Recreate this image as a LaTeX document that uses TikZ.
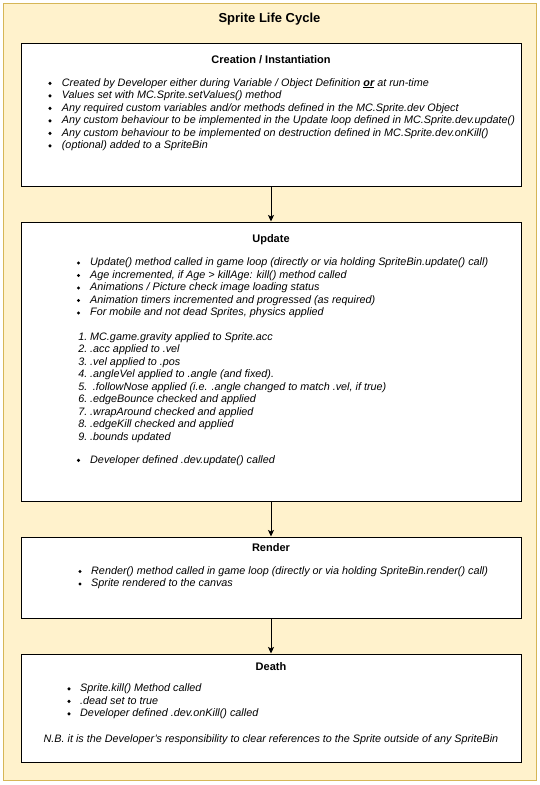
\documentclass[tikz,border=0pt]{standalone}
\usepackage{fontspec}
\setmainfont{Liberation Sans}
\usetikzlibrary{arrows.meta,shadows}
\definecolor{outerfill}{HTML}{FFF2CC}
\definecolor{outerline}{HTML}{D6B656}
\newcommand\litem[5]{%
  \fill (#2,#4-2.7) circle[radius=1.7pt];
  \node[txt] (#1) at (#3,#4) {#5};}
\newcommand\nitem[5]{%
  \node[txt,anchor=base east] (#1n) at (87.5,#4) {#2};
  \node[txt] (#1) at (#3,#4) {#5};}
\begin{document}
\begin{tikzpicture}[x=1pt,y=-1pt,
  outer/.style={draw=outerline,fill=outerfill,line width=1pt,inner sep=0pt,rectangle},
  stagebox/.style={draw=black,fill=white,line width=1pt,inner sep=0pt,rectangle,
    drop shadow={shadow xshift=1.2pt,shadow yshift=-1.2pt,fill=black,opacity=0.25}},
  maintitle/.style={anchor=base,inner sep=0pt,font=\fontsize{13}{15}\selectfont\bfseries},
  boxtitle/.style={anchor=base,inner sep=0pt,font=\fontsize{11}{13}\selectfont\bfseries},
  txt/.style={anchor=base west,inner sep=0pt,font=\fontsize{10.8}{13}\selectfont\itshape},
  arr/.style={draw=black,line width=1pt,-{Stealth[length=6.5pt,width=6pt,inset=1.5pt]}}]
\useasboundingbox (0,0) rectangle (539,785);
% outer container
\node[outer,minimum width=533pt,minimum height=777pt] (frame) at (269.5,391.5) {};
\node[maintitle] (title) at (269.5,22) {Sprite Life Cycle};
% stage boxes
\node[stagebox,minimum width=500pt,minimum height=143pt] (create) at (271,114.5) {};
\node[stagebox,minimum width=500pt,minimum height=279pt] (update) at (271,361.5) {};
\node[stagebox,minimum width=500pt,minimum height=81pt] (render) at (271,577.5) {};
\node[stagebox,minimum width=500pt,minimum height=108pt] (death) at (271,708) {};
% connectors
\draw[arr] (create) -- (update);
\draw[arr] (update) -- (render);
\draw[arr] (render) -- (death);
% Creation
\node[boxtitle] (createT) at (271,63) {Creation / Instantiation};
\litem{c1}{50}{61.7}{86}{Created by Developer either during Variable / Object Definition \underline{\textbf{or}} at run-time}
\litem{c2}{50}{61.7}{98.5}{Values set with MC.Sprite.setValues() method}
\litem{c3}{50}{61.7}{111}{Any required custom variables and/or methods defined in the MC.Sprite.dev Object}
\litem{c4}{50}{61.7}{123.5}{Any custom behaviour to be implemented in the Update loop defined in MC.Sprite.dev.update()}
\litem{c5}{50}{61.7}{136}{Any custom behaviour to be implemented on destruction defined in MC.Sprite.dev.onKill()}
\litem{c6}{50}{61.7}{148.5}{(optional) added to a SpriteBin}
% Update
\node[boxtitle] (updateT) at (271,242.3) {Update};
\litem{u1}{78.5}{90}{265.7}{Update() method called in game loop (directly or via holding SpriteBin.update() call)}
\litem{u2}{78.5}{90}{278.2}{Age incremented, if Age > killAge: kill() method called}
\litem{u3}{78.5}{90}{290.7}{Animations / Picture check image loading status}
\litem{u4}{78.5}{90}{303.2}{Animation timers incremented and progressed (as required)}
\litem{u5}{78.5}{90}{315.7}{For mobile and not dead Sprites, physics applied}
\nitem{p1}{1.}{90}{340}{MC.game.gravity applied to Sprite.acc}
\nitem{p2}{2.}{90}{352.5}{.acc applied to .vel}
\nitem{p3}{3.}{90}{365}{.vel applied to .pos}
\nitem{p4}{4.}{90}{377.5}{.angleVel applied to .angle (and fixed).}
\nitem{p5}{5.}{92.7}{390}{.followNose applied (i.e. .angle changed to match .vel, if true)}
\nitem{p6}{6.}{90}{402.5}{.edgeBounce checked and applied}
\nitem{p7}{7.}{90}{415}{.wrapAround checked and applied}
\nitem{p8}{8.}{90}{427.5}{.edgeKill checked and applied}
\nitem{p9}{9.}{90}{440}{.bounds updated}
\litem{u6}{78.5}{90}{463}{Developer defined .dev.update() called}
% Render
\node[boxtitle] (renderT) at (271,551.7) {Render};
\litem{r1}{80}{91}{574.2}{Render() method called in game loop (directly or via holding SpriteBin.render() call)}
\litem{r2}{80}{91}{586.7}{Sprite rendered to the canvas}
% Death
\node[boxtitle] (deathT) at (271,670) {Death};
\litem{d1}{69}{80}{691.5}{Sprite.kill() Method called}
\litem{d2}{69}{80}{704}{.dead set to true}
\litem{d3}{69}{80}{716.5}{Developer defined .dev.onKill() called}
\node[txt,anchor=base] (nb) at (271,742.2) {N.B. it is the Developer's responsibility to clear references to the Sprite outside of any SpriteBin};
\end{tikzpicture}
\end{document}
